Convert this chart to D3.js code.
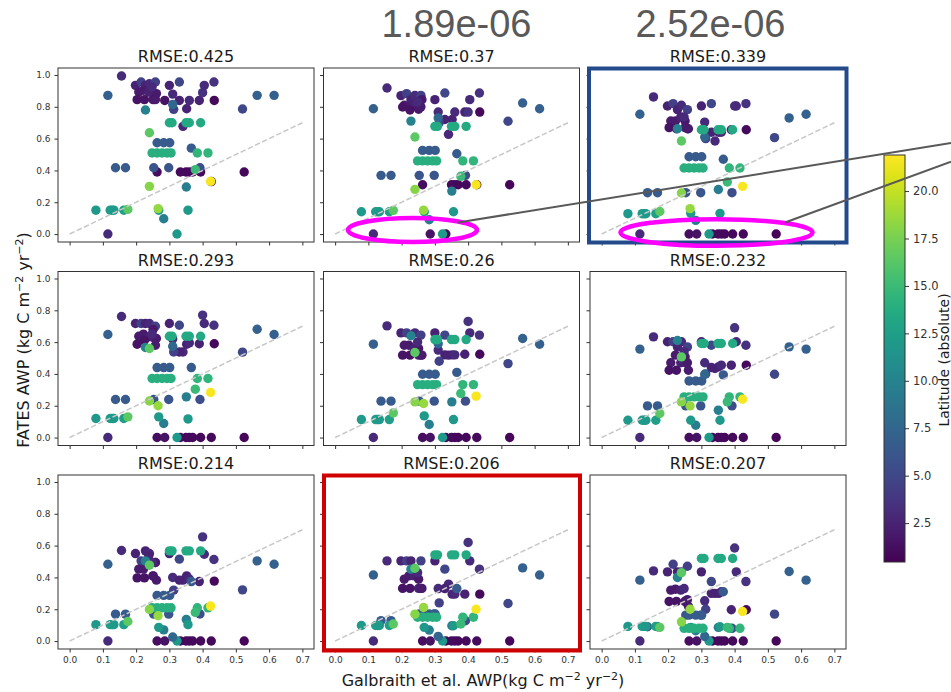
<!DOCTYPE html>
<html>
<head>
<meta charset="utf-8">
<script src="https://cdn.jsdelivr.net/npm/d3@7"></script>
<style>
  body { margin: 0; background: #ffffff; }
  svg { display: block; font-family: "DejaVu Sans", sans-serif; }
</style>
</head>
<body>
<svg id="chart" width="951" height="692"></svg>
<script>
// Observed (Galbraith et al.) wood productivity per site, kg C m-2 yr-1
const galbraithAWP = [
  0.115, 0.263, 0.286, 0.333, 0.35, 0.36, 0.37, 0.394, 0.426, 0.525, 0.323,
  0.198, 0.215, 0.228, 0.24, 0.258, 0.208, 0.222, 0.238, 0.251, 0.261, 0.203, 0.225, 0.251, 0.258, 0.248,
  0.30, 0.33, 0.31, 0.341, 0.33, 0.352, 0.36, 0.39, 0.40, 0.405, 0.434, 0.313,
  0.435, 0.156, 0.52, 0.115, 0.564, 0.615,
  0.138, 0.168, 0.253, 0.298, 0.392,
  0.263, 0.283, 0.301, 0.366, 0.31, 0.228, 0.351, 0.283,
  0.079, 0.122, 0.128, 0.133, 0.163, 0.268, 0.356,
  0.30, 0.308, 0.35, 0.36, 0.394,
  0.248, 0.263, 0.278, 0.293, 0.305, 0.384, 0.416,
  0.378, 0.24, 0.175, 0.24, 0.266, 0.424
];

// Absolute latitude of each site (colour)
const latitude = [
  3.0, 1.2, 1.5, 1.0, 1.0, 1.1, 0.9, 1.0, 1.0, 0.8, 12.0,
  2.5, 4.5, 2.5, 3.0, 4.5, 2.0, 2.0, 2.5, 2.5, 2.0, 1.5, 1.5, 1.8, 2.0, 3.0,
  2.5, 5.0, 3.0, 2.8, 2.5, 2.5, 3.0, 2.5, 3.5, 3.0, 3.5, 4.5,
  1.0, 3.0, 5.0, 7.0, 7.0, 7.0,
  6.5, 6.5, 6.0, 6.0, 5.5,
  6.5, 6.5, 6.5, 6.5, 7.5, 10.0, 9.5, 9.5,
  12.0, 12.0, 12.5, 12.0, 12.5, 12.0, 12.0,
  13.5, 13.5, 13.5, 13.5, 13.5,
  14.0, 14.0, 14.0, 14.0, 14.0, 14.5, 14.5,
  15.0, 16.5, 16.5, 18.0, 18.5, 21.7
];

// Simulated (FATES) wood productivity per site for each parameter setting
const run1 = [
  0, 0.39, 0.84, 0.39, 0.39, 0.39, 0.39, 0.39, 0.33, 0.39, 0,
  0.935, 0.956, 0.935, 0.945, 0.956, 0.893, 0.904, 0.893, 0.883, 0.883, 0.845, 0.845, 0.845, 0.845, 0.925,
  0.935, 0.956, 0.88, 0.677, 0.84, 0.788, 0.84, 0.84, 0.889, 0.935, 0.956, 0.784,
  0.84, 0.994, 0.786, 0.872, 0.872, 0.872,
  0.417, 0.417, 0.417, 0.417, 0.417,
  0.574, 0.574, 0.574, 0.54, 0.815, 0.78, 0.296, 0.096,
  0.15, 0.15, 0.15, 0.15, 0.15, 0.15, 0.15,
  0.70, 0.70, 0.70, 0.70, 0.70,
  0.51, 0.51, 0.51, 0.51, 0.51, 0.51, 0.51,
  0.405, 0.637, 0.155, 0.30, 0.16, 0.331
];
const run2 = [
  0, 0.31, 0, 0, 0.31, 0.31, 0.31, 0.31, 0.31, 0.31, 0,
  0.87, 0.883, 0.845, 0.872, 0.872, 0.81, 0.799, 0.81, 0.81, 0.845, 0.799, 0.78, 0.785, 0.8, 0.83,
  0.845, 0.887, 0.767, 0.627, 0.72, 0.72, 0.767, 0.767, 0.767, 0.845, 0.887, 0.7,
  0.767, 0.918, 0.709, 0.788, 0.824, 0.788,
  0.369, 0.369, 0.369, 0.369, 0.369,
  0.526, 0.526, 0.526, 0.505, 0.73, 0.71, 0.27, 0.09,
  0.14, 0.14, 0.14, 0.14, 0.14, 0.14, 0.14,
  0.677, 0.677, 0.677, 0.677, 0.677,
  0.46, 0.46, 0.46, 0.46, 0.46, 0.46, 0.46,
  0.363, 0.61, 0.149, 0.281, 0.15, 0.31
];
const run3 = [
  0, 0, 0, 0, 0, 0, 0, 0, 0, 0, 0,
  0.805, 0.82, 0.782, 0.81, 0.782, 0.711, 0.711, 0.736, 0.669, 0.662, 0.669, 0.662, 0.711, 0.662, 0.736,
  0.805, 0.82, 0.704, 0.585, 0.64, 0.64, 0.64, 0.656, 0.805, 0.805, 0.82, 0.6,
  0.656, 0.862, 0.606, 0.753, 0.73, 0.753,
  0.26, 0.26, 0.26, 0.26, 0.26,
  0.486, 0.486, 0.486, 0.47, 0.61, 0.662, 0.28, 0.086,
  0.128, 0.128, 0.128, 0.128, 0.128, 0.13, 0.13,
  0.656, 0.656, 0.656, 0.656, 0.656,
  0.415, 0.415, 0.415, 0.415, 0.415, 0.415, 0.415,
  0.327, 0.585, 0.142, 0.258, 0.16, 0.30
];
const run4 = [
  0, 0, 0, 0, 0, 0, 0, 0, 0, 0, 0,
  0.717, 0.717, 0.717, 0.717, 0.70, 0.637, 0.65, 0.633, 0.629, 0.623, 0.587, 0.612, 0.68, 0.58, 0.65,
  0.717, 0.706, 0.62, 0.538, 0.538, 0.587, 0.595, 0.59, 0.77, 0.717, 0.706, 0.538,
  0.59, 0.761, 0.537, 0.648, 0.681, 0.648,
  0.239, 0.239, 0.239, 0.239, 0.239,
  0.44, 0.44, 0.44, 0.44, 0.574, 0.566, 0.256, 0.088,
  0.12, 0.12, 0.12, 0.12, 0.12, 0.13, 0.117,
  0.637, 0.637, 0.637, 0.637, 0.637,
  0.371, 0.371, 0.371, 0.371, 0.371, 0.371, 0.371,
  0.304, 0.56, 0.13, 0.23, 0.2, 0.283
];
const run5 = [
  0, 0, 0, 0, 0, 0, 0, 0, 0, 0, 0,
  0.658, 0.658, 0.644, 0.658, 0.644, 0.58, 0.58, 0.56, 0.518, 0.518, 0.518, 0.518, 0.56, 0.518, 0.6,
  0.658, 0.644, 0.55, 0.518, 0.52, 0.52, 0.52, 0.524, 0.73, 0.658, 0.644, 0.48,
  0.524, 0.702, 0.465, 0.587, 0.623, 0.587,
  0.229, 0.229, 0.229, 0.229, 0.229,
  0.398, 0.398, 0.398, 0.41, 0.59, 0.64, 0.224, 0.082,
  0.113, 0.113, 0.113, 0.113, 0.113, 0.136, 0.113,
  0.616, 0.616, 0.616, 0.616, 0.616,
  0.333, 0.333, 0.333, 0.333, 0.333, 0.333, 0.333,
  0.277, 0.535, 0.155, 0.224, 0.214, 0.26
];
const run6 = [
  0, 0, 0, 0, 0, 0, 0, 0, 0, 0, 0,
  0.602, 0.602, 0.57, 0.602, 0.57, 0.47, 0.518, 0.47, 0.47, 0.423, 0.423, 0.423, 0.507, 0.47, 0.54,
  0.602, 0.58, 0.47, 0.434, 0.44, 0.445, 0.455, 0.455, 0.69, 0.602, 0.58, 0.4,
  0.455, 0.633, 0.398, 0.556, 0.57, 0.556,
  0.199, 0.199, 0.199, 0.199, 0.199,
  0.356, 0.356, 0.356, 0.394, 0.398, 0.61, 0.172, 0.077,
  0.109, 0.109, 0.109, 0.109, 0.109, 0.109, 0.109,
  0.591, 0.591, 0.591, 0.591, 0.591,
  0.256, 0.256, 0.256, 0.256, 0.256, 0.256, 0.256,
  0.224, 0.507, 0.151, 0.224, 0.199, 0.241
];
const run7 = [
  0, 0, 0, 0, 0, 0, 0, 0, 0, 0, 0,
  0.55, 0.504, 0.567, 0.55, 0.494, 0.452, 0.452, 0.536, 0.41, 0.383, 0.397, 0.397, 0.41, 0.494, 0.494,
  0.55, 0.515, 0.40, 0.383, 0.383, 0.41, 0.39, 0.374, 0.655, 0.546, 0.513, 0.32,
  0.377, 0.569, 0.322, 0.483, 0.504, 0.483,
  0.169, 0.169, 0.169, 0.169, 0.17,
  0.287, 0.287, 0.287, 0.374, 0.025, 0.504, 0.136, 0.07,
  0.103, 0.103, 0.103, 0.103, 0.103, 0.086, 0.103,
  0.567, 0.567, 0.567, 0.567, 0.567,
  0.209, 0.209, 0.209, 0.209, 0.209, 0.209, 0.209,
  0.18, 0.477, 0.123, 0.199, 0.159, 0.22
];
const run8 = [
  0, 0, 0, 0, 0, 0, 0, 0, 0, 0, 0,
  0.504, 0.504, 0.504, 0.452, 0.504, 0.389, 0.41, 0.41, 0.331, 0.331, 0.331, 0.331, 0.389, 0.331, 0.43,
  0.504, 0.452, 0.33, 0.358, 0.33, 0.295, 0.295, 0.295, 0.62, 0.504, 0.452, 0.24,
  0.295, 0.504, 0.236, 0.415, 0.46, 0.415,
  0.128, 0.128, 0.17, 0.17, 0.128,
  0.17, 0.17, 0.17, 0.33, 0.029, 0.452, 0.096, 0.069,
  0.098, 0.098, 0.098, 0.098, 0.098, 0.086, 0.096,
  0.542, 0.542, 0.542, 0.542, 0.542,
  0.15, 0.15, 0.15, 0.15, 0.15, 0.15, 0.15,
  0.107, 0.458, 0.107, 0.169, 0.211, 0.20
];
const run9 = [
  0, 0, 0, 0, 0, 0, 0, 0, 0, 0, 0,
  0.435, 0.483, 0.435, 0.435, 0.47, 0.32, 0.326, 0.32, 0.249, 0.218, 0.249, 0.249, 0.249, 0.26, 0.33,
  0.435, 0.374, 0.253, 0.3, 0.3, 0.3, 0.31, 0.197, 0.585, 0.435, 0.374, 0.2,
  0.197, 0.441, 0.169, 0.383, 0.437, 0.383,
  0.09, 0.09, 0.163, 0.163, 0.08,
  0.163, 0.163, 0.163, 0.31, 0.029, 0.4, 0.086, 0.065,
  0.092, 0.092, 0.092, 0.092, 0.092, 0.086, 0.09,
  0.519, 0.519, 0.519, 0.519, 0.519,
  0.08, 0.08, 0.08, 0.08, 0.08, 0.08, 0.08,
  0.086, 0.43, 0.086, 0.121, 0.2, 0.186
];

const fatesRuns = [run1, run2, run3, run4, run5, run6, run7, run8, run9];
const rmseLabels = ["RMSE:0.425", "RMSE:0.37", "RMSE:0.339",
                    "RMSE:0.293", "RMSE:0.26", "RMSE:0.232",
                    "RMSE:0.214", "RMSE:0.206", "RMSE:0.207"];
const xTickValues = [0.0, 0.1, 0.2, 0.3, 0.4, 0.5, 0.6, 0.7];
const yTickValues = [0.0, 0.2, 0.4, 0.6, 0.8, 1.0];
const colorTickValues = [2.5, 5.0, 7.5, 10.0, 12.5, 15.0, 17.5, 20.0];
const parameterLabels = ["1.89e-06", "2.52e-06"];
const latitudeRange = [0.45, 21.9];

const svg = d3.select("#chart");

// Grid geometry
const colLeft = [58, 323.5, 590];
const rowTop = [68, 271.5, 475];
const W = 256, H = 174;

const x = d3.scaleLinear().domain([-0.035, 0.735]).range([0, W]);
const y = d3.scaleLinear().domain([-0.05, 1.044]).range([H, 0]);
const color = d3.scaleSequential(d3.interpolateViridis).domain(latitudeRange);
const fmt = d3.format(".1f");

fatesRuns.forEach((run, i) => {
  const col = i % 3, row = Math.floor(i / 3);
  const g = svg.append("g").attr("transform", `translate(${colLeft[col]},${rowTop[row]})`);

  const sites = galbraithAWP.map((v, k) => ({ obs: v, sim: run[k], lat: latitude[k] }));

  g.selectAll("circle").data(sites).join("circle")
    .attr("cx", d => x(d.obs))
    .attr("cy", d => y(d.sim))
    .attr("r", 4.7)
    .attr("fill", d => color(d.lat));

  // 1:1 reference line
  g.append("line")
    .attr("x1", x(0)).attr("y1", y(0))
    .attr("x2", x(0.7)).attr("y2", y(0.7))
    .attr("stroke", "#c8c8c8").attr("stroke-width", 1.5)
    .attr("stroke-dasharray", "5.5,2.4");

  // Axes
  const xAxis = d3.axisBottom(x).tickValues(xTickValues).tickSize(3.5).tickPadding(4)
    .tickFormat(row === 2 ? fmt : () => "");
  const yAxis = d3.axisLeft(y).tickValues(yTickValues).tickSize(3.5).tickPadding(4)
    .tickFormat(col === 0 ? fmt : () => "");

  const gx = g.append("g").attr("transform", `translate(0,${H})`).call(xAxis);
  const gy = g.append("g").call(yAxis);
  [gx, gy].forEach(a => {
    a.select(".domain").remove();
    a.selectAll("line").attr("stroke", "#333");
    a.selectAll("text").attr("fill", "#333").style("font-size", "9px")
      .style("font-family", "DejaVu Sans, sans-serif");
  });

  g.append("rect")
    .attr("width", W).attr("height", H)
    .attr("fill", "none").attr("stroke", "#333").attr("stroke-width", 1);

  g.append("text")
    .attr("x", W / 2).attr("y", -6)
    .attr("text-anchor", "middle")
    .style("font-size", "16px").attr("fill", "#1a1a1a")
    .text(rmseLabels[i]);
});

// Axis labels with superscript exponents
function labelWithUnits(sel, prefix) {
  sel.append("tspan").text(prefix + "(kg C m");
  sel.append("tspan").attr("dy", -6).style("font-size", "11px").text("\u22122");
  sel.append("tspan").attr("dy", 6).text(" yr");
  sel.append("tspan").attr("dy", -6).style("font-size", "11px").text("\u22122");
  sel.append("tspan").attr("dy", 6).text(")");
}

const xLabel = svg.append("text")
  .attr("x", 483).attr("y", 686)
  .attr("text-anchor", "middle")
  .style("font-size", "16px").attr("fill", "#1a1a1a");
labelWithUnits(xLabel, "Galbraith et al. AWP");

const yLabel = svg.append("text")
  .attr("transform", "translate(29,340) rotate(-90)")
  .attr("text-anchor", "middle")
  .style("font-size", "16px").attr("fill", "#1a1a1a");
labelWithUnits(yLabel, "FATES AWP ");

// Colour bar
const cbX = 884, cbTop = 155, cbBottom = 562, cbW = 21;
const defs = svg.append("defs");
const grad = defs.append("linearGradient").attr("id", "viridisBar")
  .attr("x1", 0).attr("y1", 1).attr("x2", 0).attr("y2", 0);
d3.range(0, 1.0001, 0.05).forEach(t => {
  grad.append("stop").attr("offset", t).attr("stop-color", d3.interpolateViridis(t));
});
svg.append("rect")
  .attr("x", cbX).attr("y", cbTop).attr("width", cbW).attr("height", cbBottom - cbTop)
  .attr("fill", "url(#viridisBar)").attr("stroke", "#333").attr("stroke-width", 1);

const cbScale = d3.scaleLinear().domain(latitudeRange).range([cbBottom, cbTop]);
const cbAxis = svg.append("g").attr("transform", `translate(${cbX + cbW},0)`)
  .call(d3.axisRight(cbScale).tickValues(colorTickValues).tickSize(4).tickPadding(4).tickFormat(fmt));
cbAxis.select(".domain").remove();
cbAxis.selectAll("line").attr("stroke", "#333");
cbAxis.selectAll("text").attr("fill", "#333").style("font-size", "11.5px")
  .style("font-family", "DejaVu Sans, sans-serif");

svg.append("text")
  .attr("transform", "translate(949,360) rotate(-90)")
  .attr("text-anchor", "middle")
  .style("font-size", "14px").attr("fill", "#1a1a1a")
  .text("Latitude (absolute)");

// Highlighted panels
svg.append("rect")
  .attr("x", colLeft[2] - 1).attr("y", rowTop[0] + 0.5)
  .attr("width", W + 1.5).attr("height", H)
  .attr("fill", "none").attr("stroke", "#234b8c").attr("stroke-width", 4);
svg.append("rect")
  .attr("x", colLeft[1] + 0.5).attr("y", rowTop[2] + 0.5)
  .attr("width", W).attr("height", H + 1)
  .attr("fill", "none").attr("stroke", "#d00000").attr("stroke-width", 4);

// Zero-productivity sites
svg.append("ellipse")
  .attr("cx", 412.5).attr("cy", 230).attr("rx", 64.5).attr("ry", 12)
  .attr("fill", "none").attr("stroke", "#ff00ff").attr("stroke-width", 4.5);
svg.append("ellipse")
  .attr("cx", 716.5).attr("cy", 232.5).attr("rx", 96).attr("ry", 13.3)
  .attr("fill", "none").attr("stroke", "#ff00ff").attr("stroke-width", 4.5);

// Leader lines
svg.append("line")
  .attr("x1", 458).attr("y1", 222.5).attr("x2", 951).attr("y2", 143)
  .attr("stroke", "#595959").attr("stroke-width", 2);
svg.append("line")
  .attr("x1", 785).attr("y1", 222.5).attr("x2", 951).attr("y2", 161.7)
  .attr("stroke", "#595959").attr("stroke-width", 2);

// Parameter values above the columns
const paramX = [456.5, 710.5];
parameterLabels.forEach((t, k) => {
  svg.append("text")
    .attr("x", paramX[k]).attr("y", 37)
    .attr("text-anchor", "middle")
    .style("font-family", "Liberation Sans, Arial, sans-serif")
    .style("font-size", "38px").attr("fill", "#595959")
    .text(t);
});
</script>
</body>
</html>
